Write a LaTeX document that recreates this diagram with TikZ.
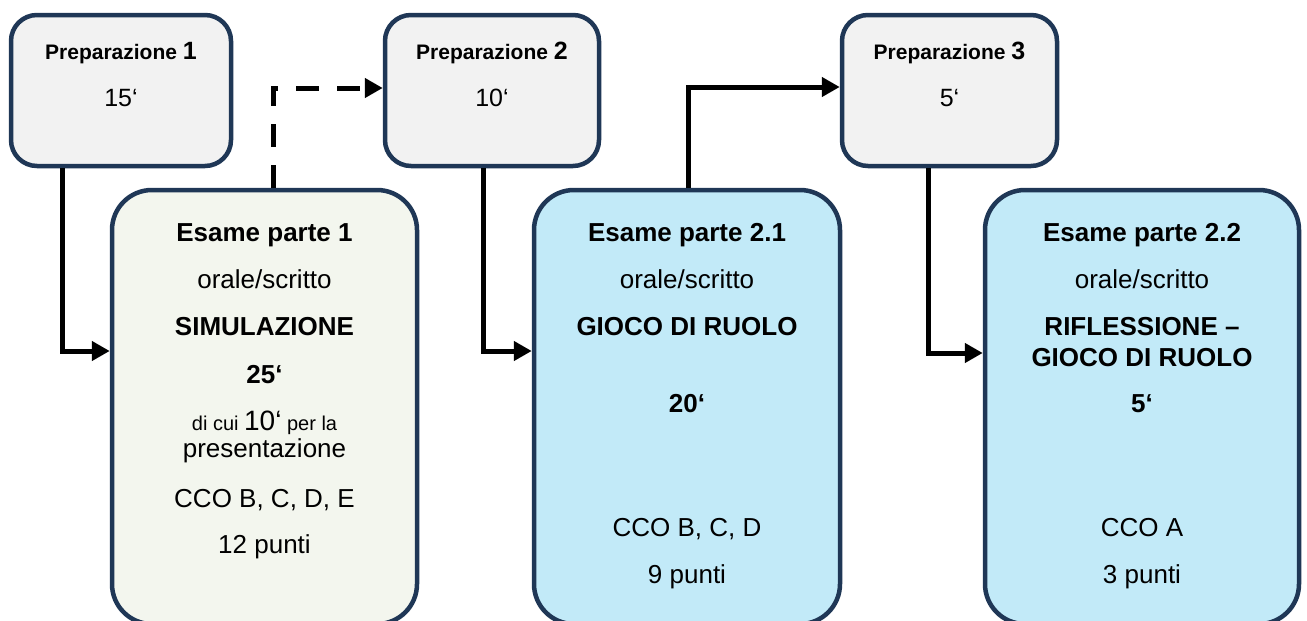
\documentclass[tikz,border=0pt]{standalone}
\usepackage{fontspec}
\setmainfont{Liberation Sans}
\usetikzlibrary{arrows.meta}

\definecolor{boxline}{HTML}{1F3756}
\definecolor{prepfill}{HTML}{F2F2F2}
\definecolor{greenfill}{HTML}{F3F6EE}
\definecolor{bluefill}{HTML}{C2EAF8}

\begin{document}
\begin{tikzpicture}[x=1pt,y=-1pt,
  prepbox/.style={draw=boxline, line width=4.5pt, fill=prepfill,
    rounded corners=26pt, minimum width=#1, minimum height=151pt, inner sep=0pt},
  exambox/.style={draw=boxline, line width=4.5pt, rounded corners=40pt,
    minimum width=#1, minimum height=434pt, inner sep=0pt},
  txt/.style={anchor=base, inner sep=0pt, font=\fontsize{26}{30}\selectfont},
  txtb/.style={anchor=base, inner sep=0pt, font=\fontsize{26}{30}\selectfont\bfseries},
  conn/.style={line width=5pt, -{Triangle[length=18pt,width=19pt]}},
  dashconn/.style={conn, dash pattern=on 23pt off 18pt}
]
\useasboundingbox (0,0) rectangle (1307,621);
\clip (0,0) rectangle (1307,621);

% preparation boxes
\node[prepbox=220pt] (p1) at (121,90.5) {};
\node[prepbox=214pt] (p2) at (492,90.5) {};
\node[prepbox=215pt] (p3) at (949.5,90.5) {};

% exam boxes (their lower edge runs past the page)
\node[exambox=305pt, fill=greenfill] (b1) at (264.5,407) {};
\node[exambox=306pt, fill=bluefill] (b2) at (687,407) {};
\node[exambox=314pt, fill=bluefill] (b3) at (1142,407) {};

% bend points of the connectors
\coordinate (k1) at (62,351);
\coordinate (k2) at (273,88);
\coordinate (k3) at (483,351);
\coordinate (k4) at (688,87);
\coordinate (k5) at (928,353);

\draw[conn] (p1.south -| k1) -- (k1) -- (b1.west |- k1);
\draw[dashconn] (b1.north -| k2) -- (k2) -- (p2.west |- k2);
\draw[conn] (p2.south -| k3) -- (k3) -- (b2.west |- k3);
\draw[conn] (b2.north -| k4) -- (k4) -- (p3.west |- k4);
\draw[conn] (p3.south -| k5) -- (k5) -- (b3.west |- k5);

% preparation texts
\node[anchor=base, inner sep=0pt] (p1t) at (121,59)
  {\fontsize{21}{24}\selectfont\bfseries Preparazione {\fontsize{25}{28}\selectfont 1}};
\node[txt, font=\fontsize{25}{28}\selectfont] (p1d) at (121,106) {15‘};
\node[anchor=base, inner sep=0pt] (p2t) at (492,59)
  {\fontsize{21}{24}\selectfont\bfseries Preparazione {\fontsize{25}{28}\selectfont 2}};
\node[txt, font=\fontsize{25}{28}\selectfont] (p2d) at (492,106) {10‘};
\node[anchor=base, inner sep=0pt] (p3t) at (949.5,59)
  {\fontsize{21}{24}\selectfont\bfseries Preparazione {\fontsize{25}{28}\selectfont 3}};
\node[txt, font=\fontsize{25}{28}\selectfont] (p3d) at (949.5,106) {5‘};

% exam part 1
\node[txtb] (b1a) at (264.5,241) {Esame parte 1};
\node[txt]  (b1b) at (264.5,288) {orale/scritto};
\node[txtb] (b1c) at (264.5,335) {SIMULAZIONE};
\node[txtb] (b1d) at (264.5,383) {25‘};
\node[anchor=base, inner sep=0pt] (b1e) at (264.5,430)
  {{\fontsize{20}{22}\selectfont di cui }{\fontsize{28}{30}\selectfont 10‘}{\fontsize{20}{22}\selectfont{} per la}};
\node[txt]  (b1f) at (264.5,457) {presentazione};
\node[txt]  (b1g) at (264.5,507) {CCO B, C, D, E};
\node[txt]  (b1h) at (264.5,553) {12 punti};

% exam part 2.1
\node[txtb] (b2a) at (687,241) {Esame parte 2.1};
\node[txt]  (b2b) at (687,288) {orale/scritto};
\node[txtb] (b2c) at (687,335) {GIOCO DI RUOLO};
\node[txtb] (b2d) at (687,412) {20‘};
\node[txt]  (b2e) at (687,536) {CCO B, C, D};
\node[txt]  (b2f) at (687,583) {9 punti};

% exam part 2.2
\node[txtb] (b3a) at (1142,241) {Esame parte 2.2};
\node[txt]  (b3b) at (1142,288) {orale/scritto};
\node[txtb] (b3c) at (1142,335) {RIFLESSIONE –};
\node[txtb] (b3d) at (1142,366) {GIOCO DI RUOLO};
\node[txtb] (b3e) at (1142,412) {5‘};
\node[txt]  (b3f) at (1142,536) {CCO A};
\node[txt]  (b3g) at (1142,583) {3 punti};
\end{tikzpicture}
\end{document}
